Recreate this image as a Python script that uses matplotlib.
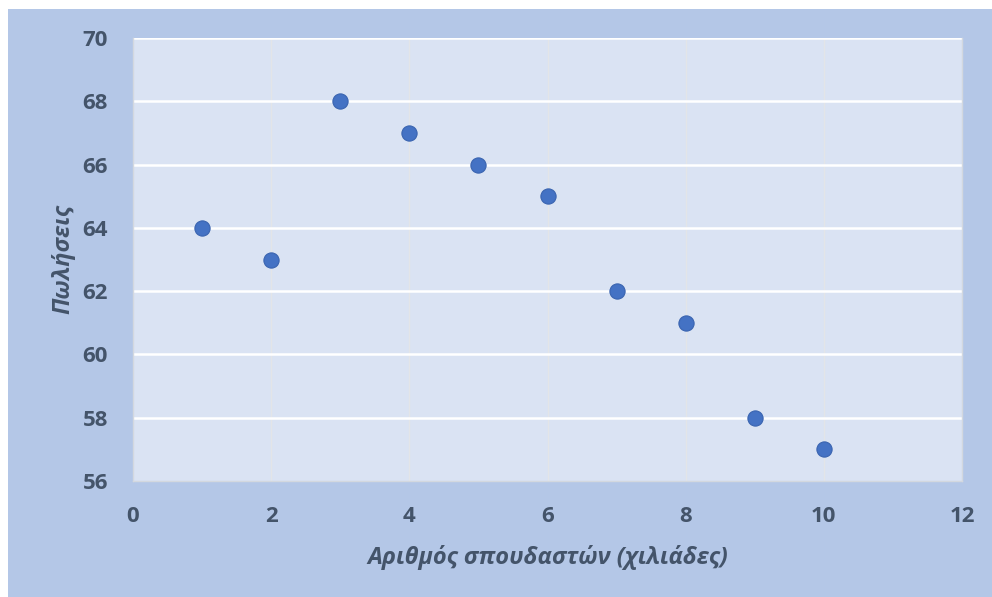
import matplotlib.pyplot as plt
from matplotlib.patches import Rectangle

# data
students = [1, 2, 3, 4, 5, 6, 7, 8, 9, 10]
sales = [64, 63, 68, 67, 66, 65, 62, 61, 58, 57]
x_ticks = [0, 2, 4, 6, 8, 10, 12]
y_ticks = [56, 58, 60, 62, 64, 66, 68, 70]

text_color = '#44546A'
plt.rcParams['font.family'] = ['Open Sans', 'DejaVu Sans']

fig = plt.figure(figsize=(9.92, 5.97), dpi=100)
fig.patch.set_facecolor('white')
# outer chart area (light blue), white strip left/top
fig.add_artist(Rectangle((8 / 992, 0), 1, 1 - 9 / 597, transform=fig.transFigure,
                         facecolor='#B4C7E7', edgecolor='none', zorder=-10))

ax = fig.add_axes([133 / 992, 1 - 481 / 597, 829 / 992, 443 / 597])
ax.set_zorder(1)
ax.set_facecolor('#DAE3F3')

ax.scatter(students, sales, s=120, color='#4472C4', edgecolors='#3A64B0',
           linewidths=0.8, zorder=3, clip_on=False)

ax.set_xlim(0, 12)
ax.set_ylim(56, 70)
ax.set_xticks(x_ticks)
ax.set_yticks(y_ticks)

# vertical grid faint grey, horizontal grid white
for xv in x_ticks[1:-1]:
    ax.axvline(xv, color='#E3E5E8', linewidth=1.0, zorder=1)
for yv in y_ticks[1:]:
    ax.axhline(yv, color='white', linewidth=1.8, zorder=2)

for side in ['left', 'bottom', 'right']:
    ax.spines[side].set_color('#D3D8DF')
    ax.spines[side].set_linewidth(1.0)
ax.spines['top'].set_visible(False)

ax.tick_params(length=0, labelsize=16, labelcolor=text_color)
ax.tick_params(axis='x', pad=18)
ax.tick_params(axis='y', pad=18)
for lbl in ax.get_xticklabels() + ax.get_yticklabels():
    lbl.set_fontweight('bold')

ax.set_xlabel('Αριθμός σπουδαστών (χιλιάδες)', fontsize=17, fontweight='bold',
              fontstyle='italic', color=text_color, labelpad=13)
ax.set_ylabel('Πωλήσεις', fontsize=17, fontweight='bold',
              fontstyle='italic', color=text_color, labelpad=5)

fig.savefig('out.png', dpi=100)
